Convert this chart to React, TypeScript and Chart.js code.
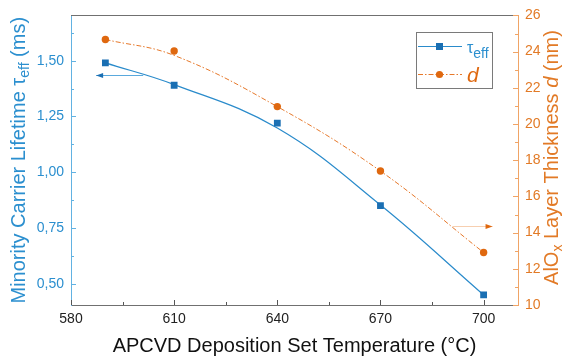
import React, { useEffect, useRef } from 'react';
import { Chart, registerables } from 'chart.js';

Chart.register(...registerables);

// ---- data ----
const temperatures = [590, 610, 640, 670, 700];
const lifetimeMs = [1.49, 1.39, 1.22, 0.85, 0.45];
// smooth guide lines through the data
const lifetimeFitMs = [1.49, 1.393, 1.198, 0.853, 0.45];
const thicknessNm = [24.67, 24.03, 20.96, 17.4, 12.9];
const thicknessFitNm = [24.67, 23.79, 20.96, 17.4, 12.9];

const xTicks = [580, 610, 640, 670, 700];
const xMinorTicks = [595, 625, 655, 685];
const leftTicks = [0.5, 0.75, 1.0, 1.25, 1.5];
const leftMinorTicks = [0.625, 0.875, 1.125, 1.375, 1.625];
const rightTicks = [10, 12, 14, 16, 18, 20, 22, 24, 26];
const rightMinorTicks = [11, 13, 15, 17, 19, 21, 23, 25];

// axis-pointing arrows (data units)
const tauArrow = { from: 601, to: 587.3, value: 1.435 };
const dArrow = { from: 691, to: 702.6, value: 14.38 };

const BLUE_MARK = '#1a6fb3';
const BLUE_LINE = '#2a8bcb';
const BLUE_TEXT = '#2b8fcf';
const BLUE_AXIS = '#62b2e2';
const ORANGE_MARK = '#df680f';
const ORANGE_LINE = '#e6782a';
const ORANGE_TEXT = '#e27a26';
const ORANGE_AXIS = '#f0a466';
const FONT = '"Liberation Sans", Arial, sans-serif';

type Seg = { text: string; size: number; color: string; italic?: boolean; dy?: number };

function drawRich(ctx: CanvasRenderingContext2D, segs: Seg[], cx: number, cy: number, rot: number, align: 'center' | 'left' = 'center') {
  ctx.save();
  ctx.translate(cx, cy);
  ctx.rotate(rot);
  ctx.textBaseline = 'alphabetic';
  ctx.textAlign = 'left';
  const fontOf = (s: Seg) => `${s.italic ? 'italic ' : ''}${s.size}px ${FONT}`;
  let total = 0;
  const widths = segs.map((s) => {
    ctx.font = fontOf(s);
    const w = ctx.measureText(s.text).width;
    total += w;
    return w;
  });
  let x = align === 'center' ? -total / 2 : 0;
  segs.forEach((s, i) => {
    ctx.font = fontOf(s);
    ctx.fillStyle = s.color;
    ctx.fillText(s.text, x, s.dy || 0);
    x += widths[i];
  });
  ctx.restore();
}

const decorPlugin = {
  id: 'decor',
  afterDraw(chart: any) {
    const ctx: CanvasRenderingContext2D = chart.ctx;
    const { left, right, top, bottom } = chart.chartArea;
    const xs = chart.scales.x;
    const yl = chart.scales.y;
    const yr = chart.scales.y2;
    ctx.save();

    // top frame line
    ctx.lineWidth = 1;
    ctx.strokeStyle = '#707070';
    ctx.beginPath();
    ctx.moveTo(left, Math.round(top) + 0.5);
    ctx.lineTo(right, Math.round(top) + 0.5);
    ctx.stroke();

    // inward ticks
    const xt = (vals: number[], len: number) => {
      ctx.strokeStyle = '#555';
      vals.forEach((v) => {
        const px = Math.round(xs.getPixelForValue(v)) + 0.5;
        ctx.beginPath();
        ctx.moveTo(px, bottom);
        ctx.lineTo(px, bottom - len);
        ctx.stroke();
      });
    };
    xt(xTicks, 5);
    xt(xMinorTicks, 3);
    const lt = (vals: number[], len: number) => {
      ctx.strokeStyle = BLUE_AXIS;
      vals.forEach((v) => {
        const py = Math.round(yl.getPixelForValue(v)) + 0.5;
        if (py < top || py > bottom) return;
        ctx.beginPath();
        ctx.moveTo(left, py);
        ctx.lineTo(left + len, py);
        ctx.stroke();
      });
    };
    lt(leftTicks, 5);
    lt(leftMinorTicks, 3);
    const rt = (vals: number[], len: number) => {
      ctx.strokeStyle = ORANGE_AXIS;
      vals.forEach((v) => {
        const py = Math.round(yr.getPixelForValue(v)) + 0.5;
        ctx.beginPath();
        ctx.moveTo(right, py);
        ctx.lineTo(right - len, py);
        ctx.stroke();
      });
    };
    rt(rightTicks, 5);
    rt(rightMinorTicks, 3);

    // arrows
    const arrow = (x1: number, x2: number, y: number, lineColor: string, headColor: string) => {
      const py = Math.round(y) + 0.5;
      ctx.strokeStyle = lineColor;
      ctx.lineWidth = 1;
      ctx.beginPath();
      ctx.moveTo(x1, py);
      ctx.lineTo(x2, py);
      ctx.stroke();
      const dir = x2 > x1 ? 1 : -1;
      ctx.fillStyle = headColor;
      ctx.beginPath();
      ctx.moveTo(x2, py);
      ctx.lineTo(x2 - dir * 7, py - 2.5);
      ctx.lineTo(x2 - dir * 7, py + 2.5);
      ctx.closePath();
      ctx.fill();
    };
    arrow(xs.getPixelForValue(tauArrow.from), xs.getPixelForValue(tauArrow.to), yl.getPixelForValue(tauArrow.value), '#5aa9dd', BLUE_MARK);
    arrow(xs.getPixelForValue(dArrow.from), xs.getPixelForValue(dArrow.to), yr.getPixelForValue(dArrow.value), '#f7cfb0', ORANGE_MARK);

    // axis titles
    drawRich(ctx, [{ text: 'APCVD Deposition Set Temperature (°C)', size: 20, color: '#111' }], (left + right) / 2, 351.5, 0);
    drawRich(
      ctx,
      [
        { text: 'Minority Carrier Lifetime ', size: 20, color: BLUE_TEXT },
        { text: 'τ', size: 20, color: BLUE_TEXT },
        { text: 'eff', size: 14, color: BLUE_TEXT, dy: 4 },
        { text: ' (ms)', size: 20, color: BLUE_TEXT },
      ],
      25,
      (top + bottom) / 2,
      -Math.PI / 2
    );
    drawRich(
      ctx,
      [
        { text: 'AlO', size: 20, color: ORANGE_TEXT },
        { text: 'x', size: 14, color: ORANGE_TEXT, dy: 4 },
        { text: ' Layer Thickness ', size: 20, color: ORANGE_TEXT },
        { text: 'd', size: 20, color: ORANGE_TEXT, italic: true },
        { text: ' (nm)', size: 20, color: ORANGE_TEXT },
      ],
      558,
      157.5,
      -Math.PI / 2
    );

    // legend
    const lx = 416.5, ly = 32.5, lw = 76, lh = 56;
    ctx.fillStyle = '#fff';
    ctx.fillRect(lx, ly, lw, lh);
    ctx.strokeStyle = '#7a7a7a';
    ctx.lineWidth = 1;
    ctx.strokeRect(lx, ly, lw, lh);
    // row 1
    ctx.strokeStyle = BLUE_LINE;
    ctx.beginPath();
    ctx.moveTo(418, 46.5);
    ctx.lineTo(462, 46.5);
    ctx.stroke();
    ctx.fillStyle = BLUE_MARK;
    ctx.fillRect(436, 43, 7, 7);
    drawRich(ctx, [
      { text: 'τ', size: 16, color: BLUE_TEXT },
      { text: 'eff', size: 14, color: BLUE_TEXT, dy: 5 },
    ], 467, 53, 0, 'left');
    // row 2
    ctx.strokeStyle = ORANGE_LINE;
    ctx.setLineDash([5, 2, 1.5, 2]);
    ctx.beginPath();
    ctx.moveTo(418, 74.5);
    ctx.lineTo(462, 74.5);
    ctx.stroke();
    ctx.setLineDash([]);
    ctx.fillStyle = ORANGE_MARK;
    ctx.beginPath();
    ctx.arc(439.5, 74.5, 3.6, 0, Math.PI * 2);
    ctx.fill();
    drawRich(ctx, [{ text: 'd', size: 21, color: ORANGE_MARK, italic: true }], 467, 82, 0, 'left');

    ctx.restore();
  },
};

export default function App() {
  const canvasRef = useRef<HTMLCanvasElement | null>(null);

  useEffect(() => {
    if (!canvasRef.current) return;
    const chart = new Chart(canvasRef.current, {
      type: 'line',
      data: {
        datasets: [
          {
            label: 'τeff',
            data: temperatures.map((t, i) => ({ x: t, y: lifetimeMs[i] })),
            yAxisID: 'y',
            showLine: false,
            backgroundColor: BLUE_MARK,
            pointBackgroundColor: BLUE_MARK,
            pointBorderColor: BLUE_MARK,
            pointBorderWidth: 0,
            pointStyle: 'rect',
            pointRadius: 4.8,
            order: 0,
          },
          {
            label: 'd',
            data: temperatures.map((t, i) => ({ x: t, y: thicknessNm[i] })),
            yAxisID: 'y2',
            showLine: false,
            backgroundColor: ORANGE_MARK,
            pointBackgroundColor: ORANGE_MARK,
            pointBorderColor: ORANGE_MARK,
            pointBorderWidth: 0,
            pointStyle: 'circle',
            pointRadius: 3.7,
            order: 1,
          },
          {
            label: 'd fit',
            data: temperatures.map((t, i) => ({ x: t, y: thicknessFitNm[i] })),
            yAxisID: 'y2',
            borderColor: ORANGE_LINE,
            borderWidth: 1,
            borderDash: [5, 2, 1.5, 2],
            pointRadius: 0,
            tension: 0.4,
            order: 2,
          },
          {
            label: 'τeff fit',
            data: temperatures.map((t, i) => ({ x: t, y: lifetimeFitMs[i] })),
            yAxisID: 'y',
            borderColor: BLUE_LINE,
            borderWidth: 1.2,
            pointRadius: 0,
            tension: 0.4,
            order: 3,
          },
        ],
      },
      options: {
        animation: false,
        responsive: true,
        maintainAspectRatio: false,
        layout: { padding: { top: 13, left: 0, right: 0, bottom: 0 } },
        plugins: { legend: { display: false }, tooltip: { enabled: false } },
        scales: {
          x: {
            type: 'linear',
            min: 580,
            max: 710,
            grid: { display: false, drawTicks: false },
            border: { display: true, color: '#707070', width: 1 },
            afterBuildTicks: (s: any) => { s.ticks = xTicks.map((v) => ({ value: v })); },
            afterFit: (s: any) => { s.height = 58; },
            ticks: {
              padding: 6,
              color: '#222',
              font: { family: FONT, size: 14 },
              callback: (v: any) => String(v),
              maxRotation: 0,
            },
          },
          y: {
            type: 'linear',
            position: 'left',
            min: 0.405,
            max: 1.703,
            grid: { display: false, drawTicks: false },
            border: { display: true, color: BLUE_AXIS, width: 1 },
            afterBuildTicks: (s: any) => { s.ticks = leftTicks.map((v) => ({ value: v })); },
            afterFit: (s: any) => { s.width = 71; },
            ticks: {
              padding: 7,
              color: BLUE_TEXT,
              font: { family: FONT, size: 14 },
              callback: (v: any) => Number(v).toFixed(2).replace('.', ','),
            },
          },
          y2: {
            type: 'linear',
            position: 'right',
            min: 10,
            max: 26,
            grid: { display: false, drawTicks: false },
            border: { display: true, color: ORANGE_AXIS, width: 1 },
            afterBuildTicks: (s: any) => { s.ticks = rightTicks.map((v) => ({ value: v })); },
            afterFit: (s: any) => { s.width = 45; },
            ticks: {
              padding: 7,
              color: ORANGE_TEXT,
              font: { family: FONT, size: 14 },
              callback: (v: any) => String(v),
            },
          },
        },
      },
      plugins: [decorPlugin],
    });
    return () => chart.destroy();
  }, []);

  return (
    <div style={{ position: 'fixed', left: 0, top: 0, width: 563, height: 363, background: '#fff' }}>
      <canvas ref={canvasRef} />
    </div>
  );
}
